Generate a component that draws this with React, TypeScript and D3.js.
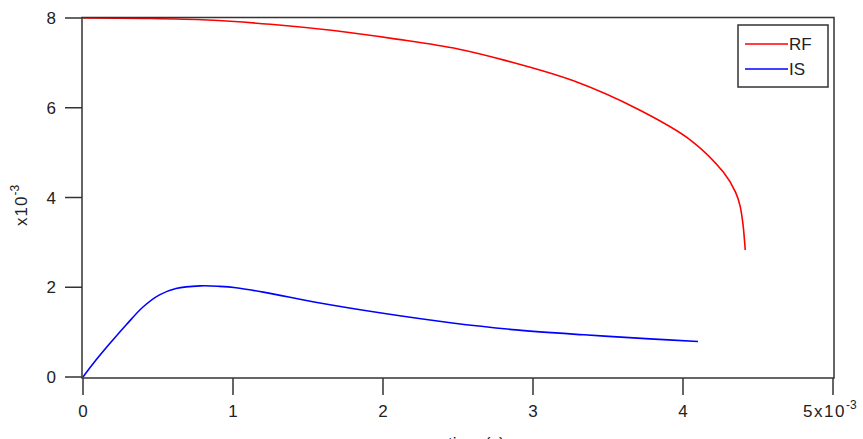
import React from "react";
import * as d3 from "d3";

const rfX = [0, 0.4, 0.83, 1.25, 1.67, 2.09, 2.5, 2.82, 3.27, 3.71, 4.05, 4.27, 4.35, 4.38, 4.4, 4.415];
const rfY = [8.0, 7.99, 7.955, 7.86, 7.72, 7.53, 7.31, 7.05, 6.6, 5.95, 5.28, 4.56, 4.12, 3.82, 3.4, 2.83];
const isX = [0, 0.08, 0.18, 0.29, 0.4, 0.51, 0.62, 0.78, 0.91, 1.02, 1.22, 1.56, 2.0, 2.45, 2.89, 3.34, 3.78, 4.1];
const isY = [0, 0.35, 0.75, 1.17, 1.56, 1.83, 1.97, 2.03, 2.02, 1.99, 1.88, 1.66, 1.42, 1.21, 1.05, 0.94, 0.85, 0.79];
const xTicks = [0, 1, 2, 3, 4, 5];
const yTicks = [0, 2, 4, 6, 8];
const seriesNames = ["RF", "IS"];
const xTitle = "time (s)";

const W = 863;
const H = 439;
const axisColor = "#333";
const textColor = "#222";
const font = "'Liberation Sans', Arial, sans-serif";
const fs = 17;

export default function App() {
  const x = d3.scaleLinear().domain([0, 5]).range([83, 833]);
  const y = d3.scaleLinear().domain([0, 8]).range([377, 18]);
  const line = d3
    .line<[number, number]>()
    .x((d) => x(d[0]))
    .y((d) => y(d[1]))
    .curve(d3.curveCatmullRom.alpha(0.5));
  const rf = rfX.map((v, i) => [v, rfY[i]] as [number, number]);
  const is = isX.map((v, i) => [v, isY[i]] as [number, number]);
  const colors = ["#ff0000", "#0000ff"];

  return (
    <svg
      width={W}
      height={H}
      style={{ position: "absolute", left: 0, top: 0, background: "#fff" }}
      fontFamily={font}
    >
      <rect x={0} y={0} width={W} height={H} fill="#fff" />
      <path d={line(rf) || ""} fill="none" stroke={colors[0]} strokeWidth={1.6} />
      <path d={line(is) || ""} fill="none" stroke={colors[1]} strokeWidth={1.6} />
      <rect
        x={x(0) - 1}
        y={y(8) - 0.5}
        width={x(5) - x(0) + 2}
        height={y(0) - y(8) + 1.5}
        fill="none"
        stroke={axisColor}
        strokeWidth={1.5}
      />
      {yTicks.map((t) => (
        <g key={"y" + t}>
          <line x1={65} x2={x(0) - 1} y1={y(t)} y2={y(t)} stroke={axisColor} strokeWidth={1.5} />
          <text x={56} y={y(t)} dy="0.36em" textAnchor="end" fontSize={fs} fill={textColor}>
            {t}
          </text>
        </g>
      ))}
      {xTicks.map((t) => (
        <g key={"x" + t}>
          <line x1={x(t)} x2={x(t)} y1={y(0) + 1} y2={395} stroke={axisColor} strokeWidth={1.5} />
          {t < 5 ? (
            <text x={x(t)} y={417} textAnchor="middle" fontSize={fs} fill={textColor}>
              {t}
            </text>
          ) : (
            <text x={x(t) - 30} y={417} textAnchor="start" fontSize={fs} letterSpacing={1.5} fill={textColor}>
              {t}x10
              <tspan fontSize={12} dy={-8} letterSpacing={0}>-3</tspan>
            </text>
          )}
        </g>
      ))}
      <text
        transform="translate(27, 226) rotate(-90)"
        textAnchor="start"
        fontSize={fs}
        letterSpacing={1}
        fill={textColor}
      >
        x10
        <tspan fontSize={12} dy={-8} letterSpacing={0}>-3</tspan>
      </text>
      <text x={448} y={449} fontSize={fs} fill={textColor}>
        {xTitle}
      </text>
      <rect x={738} y={25} width={90} height={62} fill="#fff" stroke={axisColor} strokeWidth={1.5} />
      {seriesNames.map((n, i) => (
        <g key={n}>
          <line x1={745} x2={788} y1={44 + i * 25} y2={44 + i * 25} stroke={colors[i]} strokeWidth={1.5} />
          <text x={789} y={44 + i * 25} dy="0.36em" fontSize={fs} fill={textColor}>
            {n}
          </text>
        </g>
      ))}
    </svg>
  );
}
